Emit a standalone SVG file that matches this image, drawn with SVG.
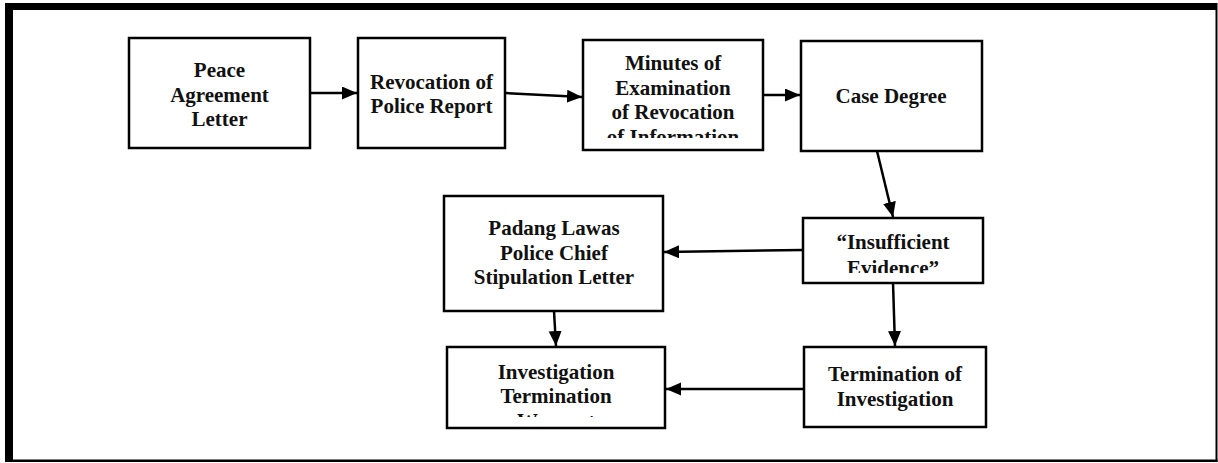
<svg xmlns="http://www.w3.org/2000/svg" width="1218" height="463" viewBox="0 0 1218 463">
<style>
.box{fill:#fff;stroke:#000;stroke-width:2.5}
.t{font-family:"Liberation Serif","Times New Roman",serif;font-weight:bold;font-size:21px;fill:#111;text-anchor:middle}
.c{fill:none;stroke:#000;stroke-width:2.5;marker-end:url(#ah)}
</style>
<defs>
<marker id="ah" markerUnits="userSpaceOnUse" markerWidth="16" markerHeight="14" refX="15" refY="6.5" orient="auto">
<path d="M0,0 L15,6.5 L0,13 z" fill="#000"/>
</marker>
<clipPath id="clip3"><rect x="583" y="41" width="180" height="97"/></clipPath>
<clipPath id="clip5"><rect x="803" y="218" width="180" height="55"/></clipPath>
<clipPath id="clip7"><rect x="447" y="347" width="218" height="70"/></clipPath>
</defs>
<rect width="1218" height="463" fill="#fff"/>
<g id="frame">
<rect x="5" y="3" width="1212" height="7" fill="#000"/>
<rect x="5" y="3" width="8" height="459" fill="#000"/>
<rect x="1215.5" y="3" width="2" height="459" fill="#000"/>
<rect x="5" y="459.5" width="1212.5" height="2.5" fill="#000"/>
</g>
<g id="connectors">
<line class="c" x1="310" y1="93" x2="357" y2="93"/>
<line class="c" x1="505" y1="93" x2="582" y2="97"/>
<line class="c" x1="763" y1="95" x2="800" y2="95"/>
<line class="c" x1="877" y1="151" x2="893" y2="217"/>
<line class="c" x1="803" y1="250" x2="664" y2="252"/>
<line class="c" x1="893" y1="283" x2="895" y2="346"/>
<line class="c" x1="554" y1="311" x2="556" y2="346"/>
<line class="c" x1="804" y1="389" x2="666" y2="389"/>
</g>
<g id="n1">
<rect class="box" x="129" y="38" width="181" height="110"/>
<text class="t" x="219.5" y="77">Peace</text>
<text class="t" x="219.5" y="101.5">Agreement</text>
<text class="t" x="219.5" y="126">Letter</text>
</g>
<g id="n2">
<rect class="box" x="358" y="38" width="147" height="110"/>
<text class="t" x="431.5" y="89">Revocation of</text>
<text class="t" x="431.5" y="113">Police Report</text>
</g>
<g id="n3">
<rect class="box" x="583" y="40" width="180" height="110"/>
<g clip-path="url(#clip3)">
<text class="t" x="673" y="70">Minutes of</text>
<text class="t" x="673" y="94.7">Examination</text>
<text class="t" x="673" y="119.3">of Revocation</text>
<text class="t" x="673" y="144">of Information</text>
</g>
</g>
<g id="n4">
<rect class="box" x="801" y="41" width="181" height="110"/>
<text class="t" x="891" y="103">Case Degree</text>
</g>
<g id="n5">
<rect class="box" x="803" y="218" width="180" height="65"/>
<g clip-path="url(#clip5)">
<text class="t" x="893" y="249">“Insufficient</text>
<text class="t" x="893" y="275">Evidence”</text>
</g>
</g>
<g id="n6">
<rect class="box" x="444" y="196" width="219" height="115"/>
<text class="t" x="554" y="235">Padang Lawas</text>
<text class="t" x="554" y="259.5">Police Chief</text>
<text class="t" x="554" y="284">Stipulation Letter</text>
</g>
<g id="n7">
<rect class="box" x="447" y="347" width="218" height="81"/>
<g clip-path="url(#clip7)">
<text class="t" x="556" y="379">Investigation</text>
<text class="t" x="556" y="403">Termination</text>
<text class="t" x="556" y="428">Warrant</text>
</g>
</g>
<g id="n8">
<rect class="box" x="804" y="347" width="182" height="80"/>
<text class="t" x="895" y="381">Termination of</text>
<text class="t" x="895" y="406">Investigation</text>
</g>
</svg>
